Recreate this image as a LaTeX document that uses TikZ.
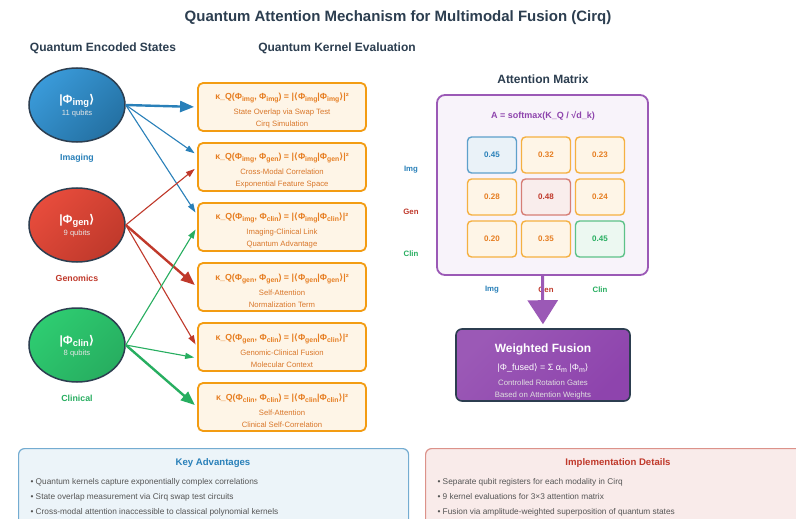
\documentclass[tikz,border=0pt]{standalone}
\usepackage{fontspec}
\usepackage{graphicx}
\setmainfont{Liberation Sans}
\newfontfamily\symf{DejaVu Sans}
\usetikzlibrary{arrows.meta,shapes.geometric,calc}

\definecolor{cdark}{HTML}{2C3E50}
\definecolor{cblue}{HTML}{2980B9}
\definecolor{cblueL}{HTML}{3A9AD9}
\definecolor{cblueD}{HTML}{2471A3}
\definecolor{cred}{HTML}{C0392B}
\definecolor{credL}{HTML}{E74C3C}
\definecolor{credD}{HTML}{C0392B}
\definecolor{cgreen}{HTML}{27AE60}
\definecolor{cgreenL}{HTML}{2ECC71}
\definecolor{cgreenD}{HTML}{27AE60}
\definecolor{corange}{HTML}{F39C12}
\definecolor{corangeT}{HTML}{E67E22}
\definecolor{corangeS}{HTML}{D9772A}
\definecolor{corangeF}{HTML}{FEF5E7}
\definecolor{cpurple}{HTML}{9B59B6}
\definecolor{cpurpleD}{HTML}{8E44AD}
\definecolor{cpurpleF}{HTML}{F8F3FA}
\definecolor{cgray}{HTML}{555555}

% bra-ket brackets, lowered subscripts and modality states
\newcommand\lbk{{\symf ⟨}}
\newcommand\rbk{{\symf ⟩}}
\newcommand\lowsub[1]{\raisebox{-0.35ex}{\scalebox{0.78}{#1}}}
\newcommand\Pimg{Φ\lowsub{img}}
\newcommand\Pgen{Φ\lowsub{gen}}
\newcommand\Pcln{Φ\lowsub{clin}}
\newcommand\fsz[1]{\fontsize{#1}{#1}\selectfont}

\tikzset{
  state/.style={ellipse, minimum width=96pt, minimum height=74pt, draw=cdark,
    line width=1.5pt, inner sep=0pt},
  statetxt/.style={text=white, font=\bfseries\fsz{12}},
  qubtxt/.style={text=white!90!black, font=\fsz{7.6}},
  modlabel/.style={font=\bfseries\fsz{8.8}},
  kbox/.style={draw=corange, fill=corangeF, line width=1.8pt, rounded corners=5pt,
    minimum width=168pt, minimum height=48pt, inner sep=0pt, align=center,
    text=corangeS, font=\fontsize{7.7}{12}\selectfont},
  head/.style={text=cdark, font=\bfseries\fsz{12}},
  thk/.style={line width=2.4pt, shorten >=3pt, -{Triangle[length=14pt,width=11pt]}},
  thn/.style={line width=1.1pt, shorten >=3pt, -{Triangle[length=9pt,width=6pt]}},
  cell/.style={minimum width=49pt, minimum height=36pt, rounded corners=4pt,
    line width=1.4pt, inner sep=0pt, font=\bfseries\fsz{8}},
  ocell/.style={cell, draw=corange!80, fill=corangeF, text=corangeT},
  axlab/.style={font=\bfseries\fsz{7.8}},
  bullet/.style={anchor=west, text=cgray, font=\fsz{8.3}},
}
% first line of a kernel box (the strut lowers the text block a little)
\newcommand\ktitle[1]{\rule{0pt}{14pt}\textcolor{corangeT}{\bfseries\fsz{8.8}#1}\\[3pt]}

\begin{document}
\begin{tikzpicture}[x=1pt,y=-1pt]
\useasboundingbox (0,0) rectangle (796,519);
\clip (0,0) rectangle (796,519);
\fill[white] (0,0) rectangle (796,519);

% headings
\node[text=cdark, font=\bfseries\fsz{15}] (title) at (398,18)
  {Quantum Attention Mechanism for Multimodal Fusion (Cirq)};
\node[head] (h1) at (103,48) {Quantum Encoded States};
\node[head] (h2) at (337,48) {Quantum Kernel Evaluation};
\node[head] (h3) at (543,79) {Attention Matrix};

% encoded states
\node[state, top color=cblueL, bottom color=cblueD, shading angle=45] (img) at (77,105) {};
\node[statetxt] (imgt) at (77,101) {|\Pimg\rbk};
\node[qubtxt] (imgq) at (77,114) {11 qubits};
\node[modlabel, text=cblue] (imgl) at (77,158) {Imaging};

\node[state, top color=credL, bottom color=credD, shading angle=45] (gen) at (77,225) {};
\node[statetxt] (gent) at (77,221) {|\Pgen\rbk};
\node[qubtxt] (genq) at (77,234) {9 qubits};
\node[modlabel, text=cred] (genl) at (77,278) {Genomics};

\node[state, top color=cgreenL, bottom color=cgreenD, shading angle=45] (cln) at (77,345) {};
\node[statetxt] (clnt) at (77,341) {|\Pcln\rbk};
\node[qubtxt] (clnq) at (77,354) {8 qubits};
\node[modlabel, text=cgreen] (clnl) at (77,398) {Clinical};

% kernel evaluations
\node[kbox] (k1) at (282,107) {\ktitle{κ\_Q(\Pimg, \Pimg) = |\lbk\Pimg|\Pimg\rbk|²}
  State Overlap via Swap Test\\ Cirq Simulation};
\node[kbox] (k2) at (282,167) {\ktitle{κ\_Q(\Pimg, \Pgen) = |\lbk\Pimg|\Pgen\rbk|²}
  Cross-Modal Correlation\\ Exponential Feature Space};
\node[kbox] (k3) at (282,227) {\ktitle{κ\_Q(\Pimg, \Pcln) = |\lbk\Pimg|\Pcln\rbk|²}
  Imaging-Clinical Link\\ Quantum Advantage};
\node[kbox] (k4) at (282,287) {\ktitle{κ\_Q(\Pgen, \Pgen) = |\lbk\Pgen|\Pgen\rbk|²}
  Self-Attention\\ Normalization Term};
\node[kbox] (k5) at (282,347) {\ktitle{κ\_Q(\Pgen, \Pcln) = |\lbk\Pgen|\Pcln\rbk|²}
  Genomic-Clinical Fusion\\ Molecular Context};
\node[kbox] (k6) at (282,407) {\ktitle{κ\_Q(\Pcln, \Pcln) = |\lbk\Pcln|\Pcln\rbk|²}
  Self-Attention\\ Clinical Self-Correlation};

% state -> kernel connectors
\draw[thk, cblue] (img.east) -- (k1.west);
\draw[thn, cblue] (img.east) -- ([yshift=12pt]k2.west);
\draw[thn, cblue] (img.east) -- ([yshift=12pt]k3.west);
\draw[thn, cred] (gen.east) -- (k2.west);
\draw[thk, cred] (gen.east) -- (k4.west);
\draw[thn, cred] (gen.east) -- (k5.west);
\draw[thn, cgreen] (cln.east) -- (k3.west);
\draw[thn, cgreen] (cln.east) -- ([yshift=-11pt]k5.west);
\draw[thk, cgreen] (cln.east) -- (k6.west);

% attention matrix
\node[draw=cpurple, fill=cpurpleF, line width=1.8pt, rounded corners=8pt,
  minimum width=211pt, minimum height=180pt] (am) at (542.5,185) {};
\node[text=cpurpleD, font=\bfseries\fsz{9}] (amf) at (543,116)
  {A = softmax(K\_Q / √d\_k)};

\node[cell, draw=cblue!75, fill=cblue!10, text=cblue] (c11) at (492,155) {0.45};
\node[ocell] (c12) at (546,155) {0.32};
\node[ocell] (c13) at (600,155) {0.23};
\node[ocell] (c21) at (492,197) {0.28};
\node[cell, draw=cred!65, fill=cred!9, text=cred] (c22) at (546,197) {0.48};
\node[ocell] (c23) at (600,197) {0.24};
\node[ocell] (c31) at (492,239) {0.20};
\node[ocell] (c32) at (546,239) {0.35};
\node[cell, draw=cgreen!75, fill=cgreen!9, text=cgreen] (c33) at (600,239) {0.45};

\node[axlab, text=cblue] (r1) at (411,170) {Img};
\node[axlab, text=cred] (r2) at (411,212) {Gen};
\node[axlab, text=cgreen] (r3) at (411,254) {Clin};
\node[axlab, text=cblue] (q1) at (492,290) {Img};
\node[axlab, text=cred] (q2) at (546,290) {Gen};
\node[axlab, text=cgreen] (q3) at (600,290) {Clin};

% weighted fusion
\node[draw=cdark, line width=1.6pt, rounded corners=6pt, top color=cpurple,
  bottom color=cpurpleD, shading angle=45, minimum width=174pt, minimum height=72pt]
  (fus) at (543,365) {};
\node[text=white, font=\bfseries\fsz{12}] (fust) at (543,349) {Weighted Fusion};
\node[text=white, font=\fsz{9}] (fusf) at (543,368)
  {|Φ\_fused\rbk{} = Σ α\lowsub{m} |Φ\lowsub{m}\rbk};
\node[text=white!88!black, font=\fsz{7.8}] (fusa) at (543,383) {Controlled Rotation Gates};
\node[text=white!88!black, font=\fsz{7.8}] (fusb) at (543,395) {Based on Attention Weights};

\draw[line width=3pt, cpurple, shorten >=4pt, -{Triangle[length=24pt,width=30pt]}]
  (am.south) -- (fus.north);

% summary panels
\node[draw=cblue!65, fill=cblue!9, line width=1.2pt, rounded corners=6pt,
  minimum width=390pt, minimum height=100pt, anchor=north west] (adv) at (18,448) {};
\node[text=cblue, font=\bfseries\fsz{9.6}] (advt) at (213,463) {Key Advantages};
\node[bullet] (adv1) at (27,482) {• Quantum kernels capture exponentially complex correlations};
\node[bullet] (adv2) at (27,497) {• State overlap measurement via Cirq swap test circuits};
\node[bullet] (adv3) at (27,512) {• Cross-modal attention inaccessible to classical polynomial kernels};

\node[draw=cred!55, fill=cred!10, line width=1.2pt, rounded corners=6pt,
  minimum width=386pt, minimum height=100pt, anchor=north west] (imp) at (425,448) {};
\node[text=cred, font=\bfseries\fsz{9.6}] (impt) at (618,463) {Implementation Details};
\node[bullet] (imp1) at (434,482) {• Separate qubit registers for each modality in Cirq};
\node[bullet] (imp2) at (434,497) {• 9 kernel evaluations for 3×3 attention matrix};
\node[bullet] (imp3) at (434,512) {• Fusion via amplitude-weighted superposition of quantum states};
\end{tikzpicture}
\end{document}
